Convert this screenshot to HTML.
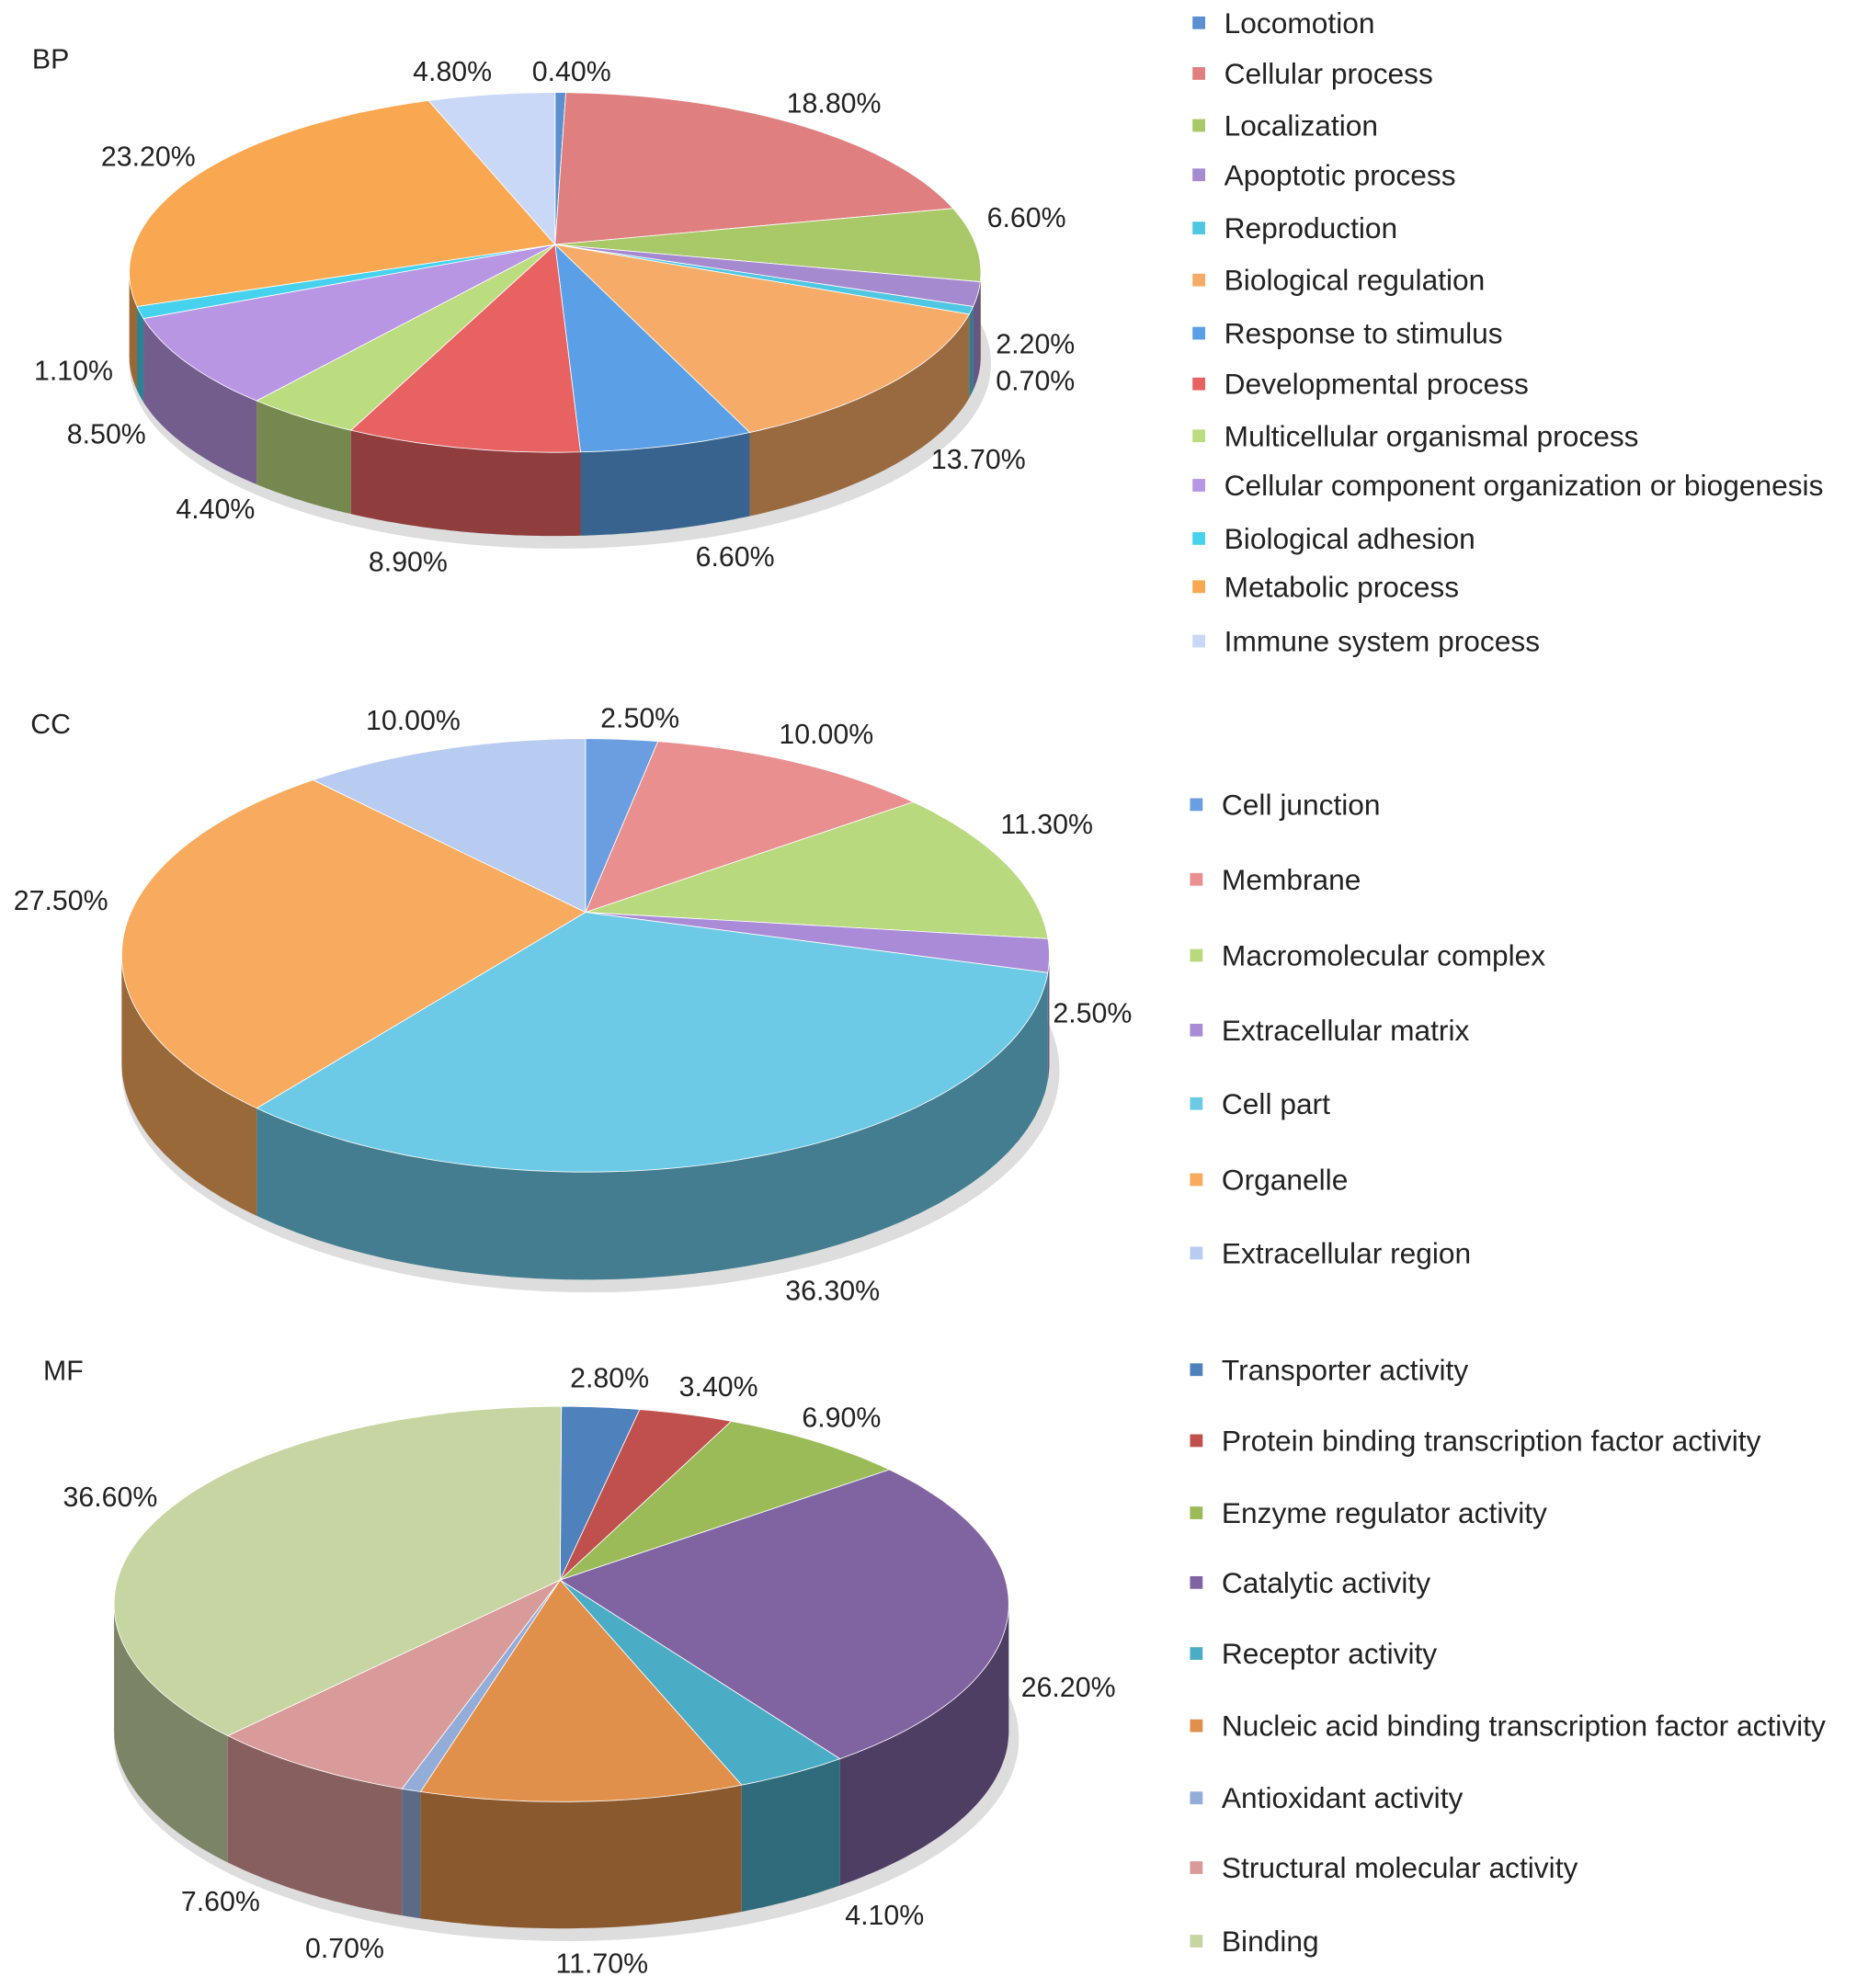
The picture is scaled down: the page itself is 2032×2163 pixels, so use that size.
<!DOCTYPE html>
<html><head><meta charset="utf-8"><style>
html,body{margin:0;padding:0;background:#fff;}
svg{display:block;}
text{font-family:"Liberation Sans",sans-serif;fill:#222;}
</style></head><body>
<svg id="chart" width="2032" height="2163" viewBox="0 0 1474 1569" preserveAspectRatio="none" xmlns="http://www.w3.org/2000/svg"></svg>
<script>
const bpCategories=["Locomotion","Cellular process","Localization","Apoptotic process","Reproduction","Biological regulation","Response to stimulus","Developmental process","Multicellular organismal process","Cellular component organization or biogenesis","Biological adhesion","Metabolic process","Immune system process"];
const bpValues=[0.4,18.8,6.6,2.2,0.7,13.7,6.6,8.9,4.4,8.5,1.1,23.2,4.8];
const bpLabels=["0.40%","18.80%","6.60%","2.20%","0.70%","13.70%","6.60%","8.90%","4.40%","8.50%","1.10%","23.20%","4.80%"];
const ccCategories=["Cell junction","Membrane","Macromolecular complex","Extracellular matrix","Cell part","Organelle","Extracellular region"];
const ccValues=[2.5,10.0,11.3,2.5,36.3,27.5,10.0];
const ccLabels=["2.50%","10.00%","11.30%","2.50%","36.30%","27.50%","10.00%"];
const mfCategories=["Transporter activity","Protein binding transcription factor activity","Enzyme regulator activity","Catalytic activity","Receptor activity","Nucleic acid binding transcription factor activity","Antioxidant activity","Structural molecular activity","Binding"];
const mfValues=[2.8,3.4,6.9,26.2,4.1,11.7,0.7,7.6,36.6];
const mfLabels=["2.80%","3.40%","6.90%","26.20%","4.10%","11.70%","0.70%","7.60%","36.60%"];

const charts=[
 {id:"bp",title:"BP",tx:40,ty:47,cats:bpCategories,vals:bpValues,labels:bpLabels,
  ax:438,ay:193,cx:438,cy:215,rx:336,ry:142,depth:66,
  colors:["#5b8fd0","#e07f7f","#a9c868","#a58ad0","#4fc6e2","#f6ab68","#5b9fe6","#e86262","#bcdc80","#b896e4","#46d2ee","#f9a851","#c9d8f6"],
  lpos:[[451,57],[658,82],[810,172],[817,272],[817,301],[772,363],[580,440],[322,444],[170,402],[84,343],[58,293],[117,124],[357,57]],
  legX:946,legY:[18,58,99,138,180,221,263,303,344,383,425,463,506]},
 {id:"cc",title:"CC",tx:40,ty:572,cats:ccCategories,vals:ccValues,labels:ccLabels,
  ax:462,ay:720,cx:462,cy:754,rx:366,ry:171,depth:85,
  colors:["#6a9ee0","#ea8f8f","#b8d97e","#a98bd8","#6ccae6","#f8aa5e","#b8cbf0"],
  lpos:[[505,567],[652,580],[826,651],[862,800],[657,1019],[48,711],[326,569]],
  legX:944,legY:[635,694,754,813,871,931,989]},
 {id:"mf",title:"MF",tx:50,ty:1082,cats:mfCategories,vals:mfValues,labels:mfLabels,
  ax:442,ay:1247,cx:443,cy:1266,rx:353,ry:156,depth:100,
  colors:["#4f81bd","#c0504d","#9bbb59","#8064a2","#4bacc6","#e0904a","#93acd8","#d99a9a","#c6d5a2"],
  lpos:[[481,1088],[567,1095],[664,1119],[843,1332],[698,1512],[475,1550],[272,1538],[174,1501],[87,1182]],
  legX:944,legY:[1081,1137,1194,1249,1305,1362,1419,1474,1532]}
];
const NS="http://www.w3.org/2000/svg";
const svg=document.getElementById("chart");
function mk(tag,attrs,parent){const e=document.createElementNS(NS,tag);for(const k in attrs)e.setAttribute(k,attrs[k]);(parent||svg).appendChild(e);return e;}
function dark(hex,f){const n=parseInt(hex.slice(1),16);const r=Math.round(((n>>16)&255)*f),g=Math.round(((n>>8)&255)*f),b=Math.round((n&255)*f);return`rgb(${r},${g},${b})`;}
function pt(c,t,dy){return[c.cx+c.rx*Math.sin(t),c.cy-c.ry*Math.cos(t)+(dy||0)];}
charts.forEach(c=>{
  const g=mk("g",{});
  
  
  const total=c.vals.reduce((a,b)=>a+b,0);
  const angs=[];let acc=0;
  c.vals.forEach(v=>{const a0=acc/total*2*Math.PI;acc+=v;angs.push([a0,acc/total*2*Math.PI]);});
  const sh=mk("ellipse",{cx:c.cx+4,cy:c.cy+c.depth+6,rx:c.rx+4,ry:c.ry+4,fill:"#ddd"},g);
  
  
  angs.forEach(([a0,a1],i)=>{
    const s=Math.max(a0,Math.PI/2),e=Math.min(a1,3*Math.PI/2);
    if(e<=s)return;
    let d="";const N=40;
    for(let k=0;k<=N;k++){const p=pt(c,s+(e-s)*k/N);d+=(k?"L":"M")+p[0].toFixed(1)+","+p[1].toFixed(1);}
    for(let k=N;k>=0;k--){const p=pt(c,s+(e-s)*k/N,c.depth);d+="L"+p[0].toFixed(1)+","+p[1].toFixed(1);}
    const side=mk("path",{d:d+"Z",fill:dark(c.colors[i],0.62)},g);
    
    
  });
  angs.forEach(([a0,a1],i)=>{
    let d="M"+c.ax+","+c.ay;const N=Math.max(4,Math.ceil((a1-a0)*40));
    for(let k=0;k<=N;k++){const p=pt(c,a0+(a1-a0)*k/N);d+="L"+p[0].toFixed(1)+","+p[1].toFixed(1);}
    const top=mk("path",{d:d+"Z",fill:c.colors[i],stroke:"#fff","stroke-width":0.6},g);
    
    
  });
  c.labels.forEach((l,i)=>{
    const t=mk("text",{x:c.lpos[i][0],y:c.lpos[i][1]+7,"font-size":22,"text-anchor":"middle"},g);
    t.textContent=l;
    
    
  });
  const ti=mk("text",{x:c.tx,y:c.ty+7,"font-size":22,"text-anchor":"middle"},g);
  ti.textContent=c.title;
  
  
  c.cats.forEach((name,i)=>{
    const y=c.legY[i];
    const sq=mk("rect",{x:c.legX-5,y:y-5,width:10,height:10,fill:c.colors[i]},g);
    
    
    const t=mk("text",{x:c.legX+20,y:y+8,"font-size":23},g);
    t.textContent=name;
    
    
  });
});
</script>
</body></html>
